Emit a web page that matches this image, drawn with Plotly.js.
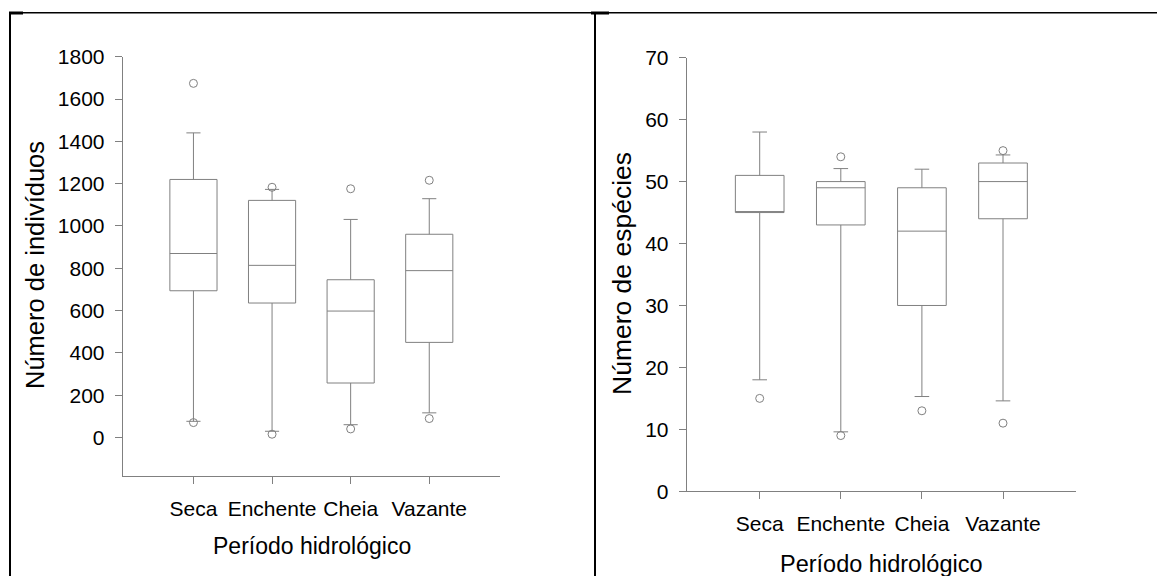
<!DOCTYPE html>
<html>
<head>
<meta charset="utf-8">
<script src="https://cdn.plot.ly/plotly-3.0.1.min.js"></script>
<style>html,body{margin:0;padding:0;background:#fff;}#chart{width:1157px;height:576px;}</style>
</head>
<body>
<div id="chart"></div>
<script>
const categories = ['Seca', 'Enchente', 'Cheia', 'Vazante'];

// Left panel: Número de indivíduos
const indLowerFence = [77, 30, 61, 117];
const indQ1 = [694, 636, 258, 450];
const indMedian = [870, 814, 598, 789];
const indQ3 = [1220, 1121, 746, 961];
const indUpperFence = [1440, 1173, 1031, 1129];
const indOutlierCat = ['Seca', 'Seca', 'Enchente', 'Enchente', 'Cheia', 'Cheia', 'Vazante', 'Vazante'];
const indOutliers = [1674, 71, 1183, 16, 1176, 41, 1216, 90];
const indTicks = [0, 200, 400, 600, 800, 1000, 1200, 1400, 1600, 1800];

// Right panel: Número de espécies
const spLowerFence = [18, 9.6, 15.3, 14.6];
const spQ1 = [45, 43, 30, 44];
const spMedian = [45, 49, 42, 50];
const spQ3 = [51, 50, 49, 53];
const spUpperFence = [58, 52.1, 52, 54.3];
const spOutlierCat = ['Seca', 'Enchente', 'Enchente', 'Cheia', 'Vazante', 'Vazante'];
const spOutliers = [15, 54, 9, 13, 11, 55];
const spTicks = [0, 10, 20, 30, 40, 50, 60, 70];

const xTitle = 'Período hidrológico';
const yTitleLeft = 'Número de indivíduos';
const yTitleRight = 'Número de espécies';

const W = 1157, H = 576;
const px = v => v / W;
const py = v => (H - v) / H;
const grey = '#808080';
const FONT = 'Liberation Sans, Arial, sans-serif';

function boxTrace(q1, med, q3, lo, hi, xa, ya) {
  return {
    type: 'box', x: categories, q1: q1, median: med, q3: q3,
    lowerfence: lo, upperfence: hi, width: 0.6, whiskerwidth: 0.3,
    boxpoints: false, fillcolor: 'rgba(255,255,255,0)',
    line: {color: grey, width: 1}, xaxis: xa, yaxis: ya, showlegend: false, hoverinfo: 'skip'
  };
}
function outTrace(xs, ys, xa, ya) {
  return {
    type: 'scatter', mode: 'markers', x: xs, y: ys, xaxis: xa, yaxis: ya,
    marker: {symbol: 'circle-open', size: 8, color: grey, line: {width: 1, color: grey}},
    showlegend: false, hoverinfo: 'skip'
  };
}

const data = [
  boxTrace(indQ1, indMedian, indQ3, indLowerFence, indUpperFence, 'x', 'y'),
  outTrace(indOutlierCat, indOutliers, 'x', 'y'),
  boxTrace(spQ1, spMedian, spQ3, spLowerFence, spUpperFence, 'x2', 'y2'),
  outTrace(spOutlierCat, spOutliers, 'x2', 'y2')
];

const xCommon = {
  type: 'category', categoryorder: 'array', categoryarray: categories,
  range: [-0.9, 3.9], showline: true, linecolor: grey, linewidth: 1,
  ticks: 'outside', ticklen: 7, tickcolor: grey, tickwidth: 1,
  showgrid: false, zeroline: false, fixedrange: true,
  tickfont: {family: FONT, size: 21, color: '#000'}, ticklabelstandoff: 7
};
const yCommon = {
  showline: true, linecolor: grey, linewidth: 1,
  ticks: 'outside', ticklen: 7, tickcolor: grey, tickwidth: 1,
  showgrid: false, zeroline: false, fixedrange: true,
  tickfont: {family: FONT, size: 21, color: '#000'}, ticklabelstandoff: 6
};

const layout = {
  width: W, height: H,
  margin: {l: 0, r: 0, t: 0, b: 0},
  paper_bgcolor: '#fff', plot_bgcolor: 'rgba(0,0,0,0)',
  font: {family: FONT, color: '#000'},
  xaxis: Object.assign({}, xCommon, {domain: [px(122.7), px(500)], anchor: 'y'}),
  yaxis: Object.assign({}, yCommon, {domain: [py(475.7), py(56.7)], anchor: 'x',
    range: [-180, 1800], tickvals: indTicks}),
  xaxis2: Object.assign({}, xCommon, {domain: [px(686.7), px(1076)], anchor: 'y2',
    ticklabelstandoff: 6}),
  yaxis2: Object.assign({}, yCommon, {domain: [py(491.3), py(57.7)], anchor: 'x2',
    range: [0, 70], tickvals: spTicks}),
  annotations: [
    {text: yTitleLeft, xref: 'paper', yref: 'paper', x: px(35), y: py(265), textangle: -90,
     showarrow: false, xanchor: 'center', yanchor: 'middle', font: {family: FONT, size: 25.5, color: '#000'}},
    {text: yTitleRight, xref: 'paper', yref: 'paper', x: px(622), y: py(274), textangle: -90,
     showarrow: false, xanchor: 'center', yanchor: 'middle', font: {family: FONT, size: 26.5, color: '#000'}},
    {text: xTitle, xref: 'paper', yref: 'paper', x: px(311.5), y: py(546), showarrow: false,
     xanchor: 'center', yanchor: 'middle', font: {family: FONT, size: 23, color: '#000'}},
    {text: xTitle, xref: 'paper', yref: 'paper', x: px(881.7), y: py(564), showarrow: false,
     xanchor: 'center', yanchor: 'middle', font: {family: FONT, size: 23.5, color: '#000'}}
  ],
  shapes: [
    {type: 'line', xref: 'paper', yref: 'paper', x0: px(9), x1: px(1157), y0: py(12.8), y1: py(12.8), line: {color: '#000', width: 1.5}},
    {type: 'line', xref: 'paper', yref: 'paper', x0: px(10), x1: px(10), y0: py(12), y1: py(576), line: {color: '#000', width: 2}},
    {type: 'line', xref: 'paper', yref: 'paper', x0: px(595), x1: px(595), y0: py(12), y1: py(576), line: {color: '#000', width: 2}},
    {type: 'line', xref: 'paper', yref: 'paper', x0: px(9), x1: px(23), y0: py(13), y1: py(13), line: {color: '#000', width: 3}},
    {type: 'line', xref: 'paper', yref: 'paper', x0: px(591), x1: px(609), y0: py(13), y1: py(13), line: {color: '#000', width: 3}}
  ]
};

Plotly.newPlot('chart', data, layout, {staticPlot: true, displayModeBar: false});
</script>
</body>
</html>
